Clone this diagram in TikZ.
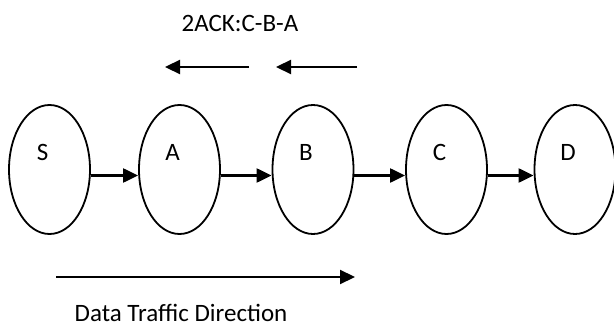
\documentclass[tikz,border=0pt]{standalone}
\usepackage{fontspec}
\setmainfont{Carlito}
\usetikzlibrary{shapes.geometric,arrows.meta}
\tikzset{
  station/.style = {draw = black, ellipse, line width = 1.8pt, minimum width = 81pt, minimum height = 129pt, inner sep = 0pt},
  flow/.style = {line width = 2.2pt, -{Triangle[length = 15pt, width = 14pt]}},
  lbl/.style = {font = \fontsize{25}{30}\selectfont, inner sep = 0pt}
}
\begin{document}
\begin{tikzpicture}[x = 1pt, y = -1pt]
\useasboundingbox (0,0) rectangle (614,329);
\node[lbl] (ack) at (240,23) {2ACK:C-B-A};
\foreach \n/\x in {S/49.5,A/179.5,B/313,C/446.5,D/575} {
  \node[station] (\n) at (\x,169.5) {};
  \node[lbl] (\n txt) at ([xshift = -7pt, yshift = 17pt]\n.center) {\n};
}
\foreach \a/\b in {S/A,A/B,B/C,C/D} \draw[flow] ([yshift = -6pt]\a.east) -- ([yshift = -6pt]\b.west);
% acknowledgement going back
\coordinate (ackCs) at (357,67);
\coordinate (ackCe) at (276,67);
\coordinate (ackBs) at (249,67);
\coordinate (ackBe) at (165,67);
\draw[flow] (ackCs) -- (ackCe);
\draw[flow] (ackBs) -- (ackBe);
% data direction
\coordinate (dataS) at (56,277);
\coordinate (dataE) at (355,277);
\draw[flow] (dataS) -- (dataE);
\node[lbl] (data) at (181,313) {Data Traffic Direction};
\end{tikzpicture}
\end{document}
